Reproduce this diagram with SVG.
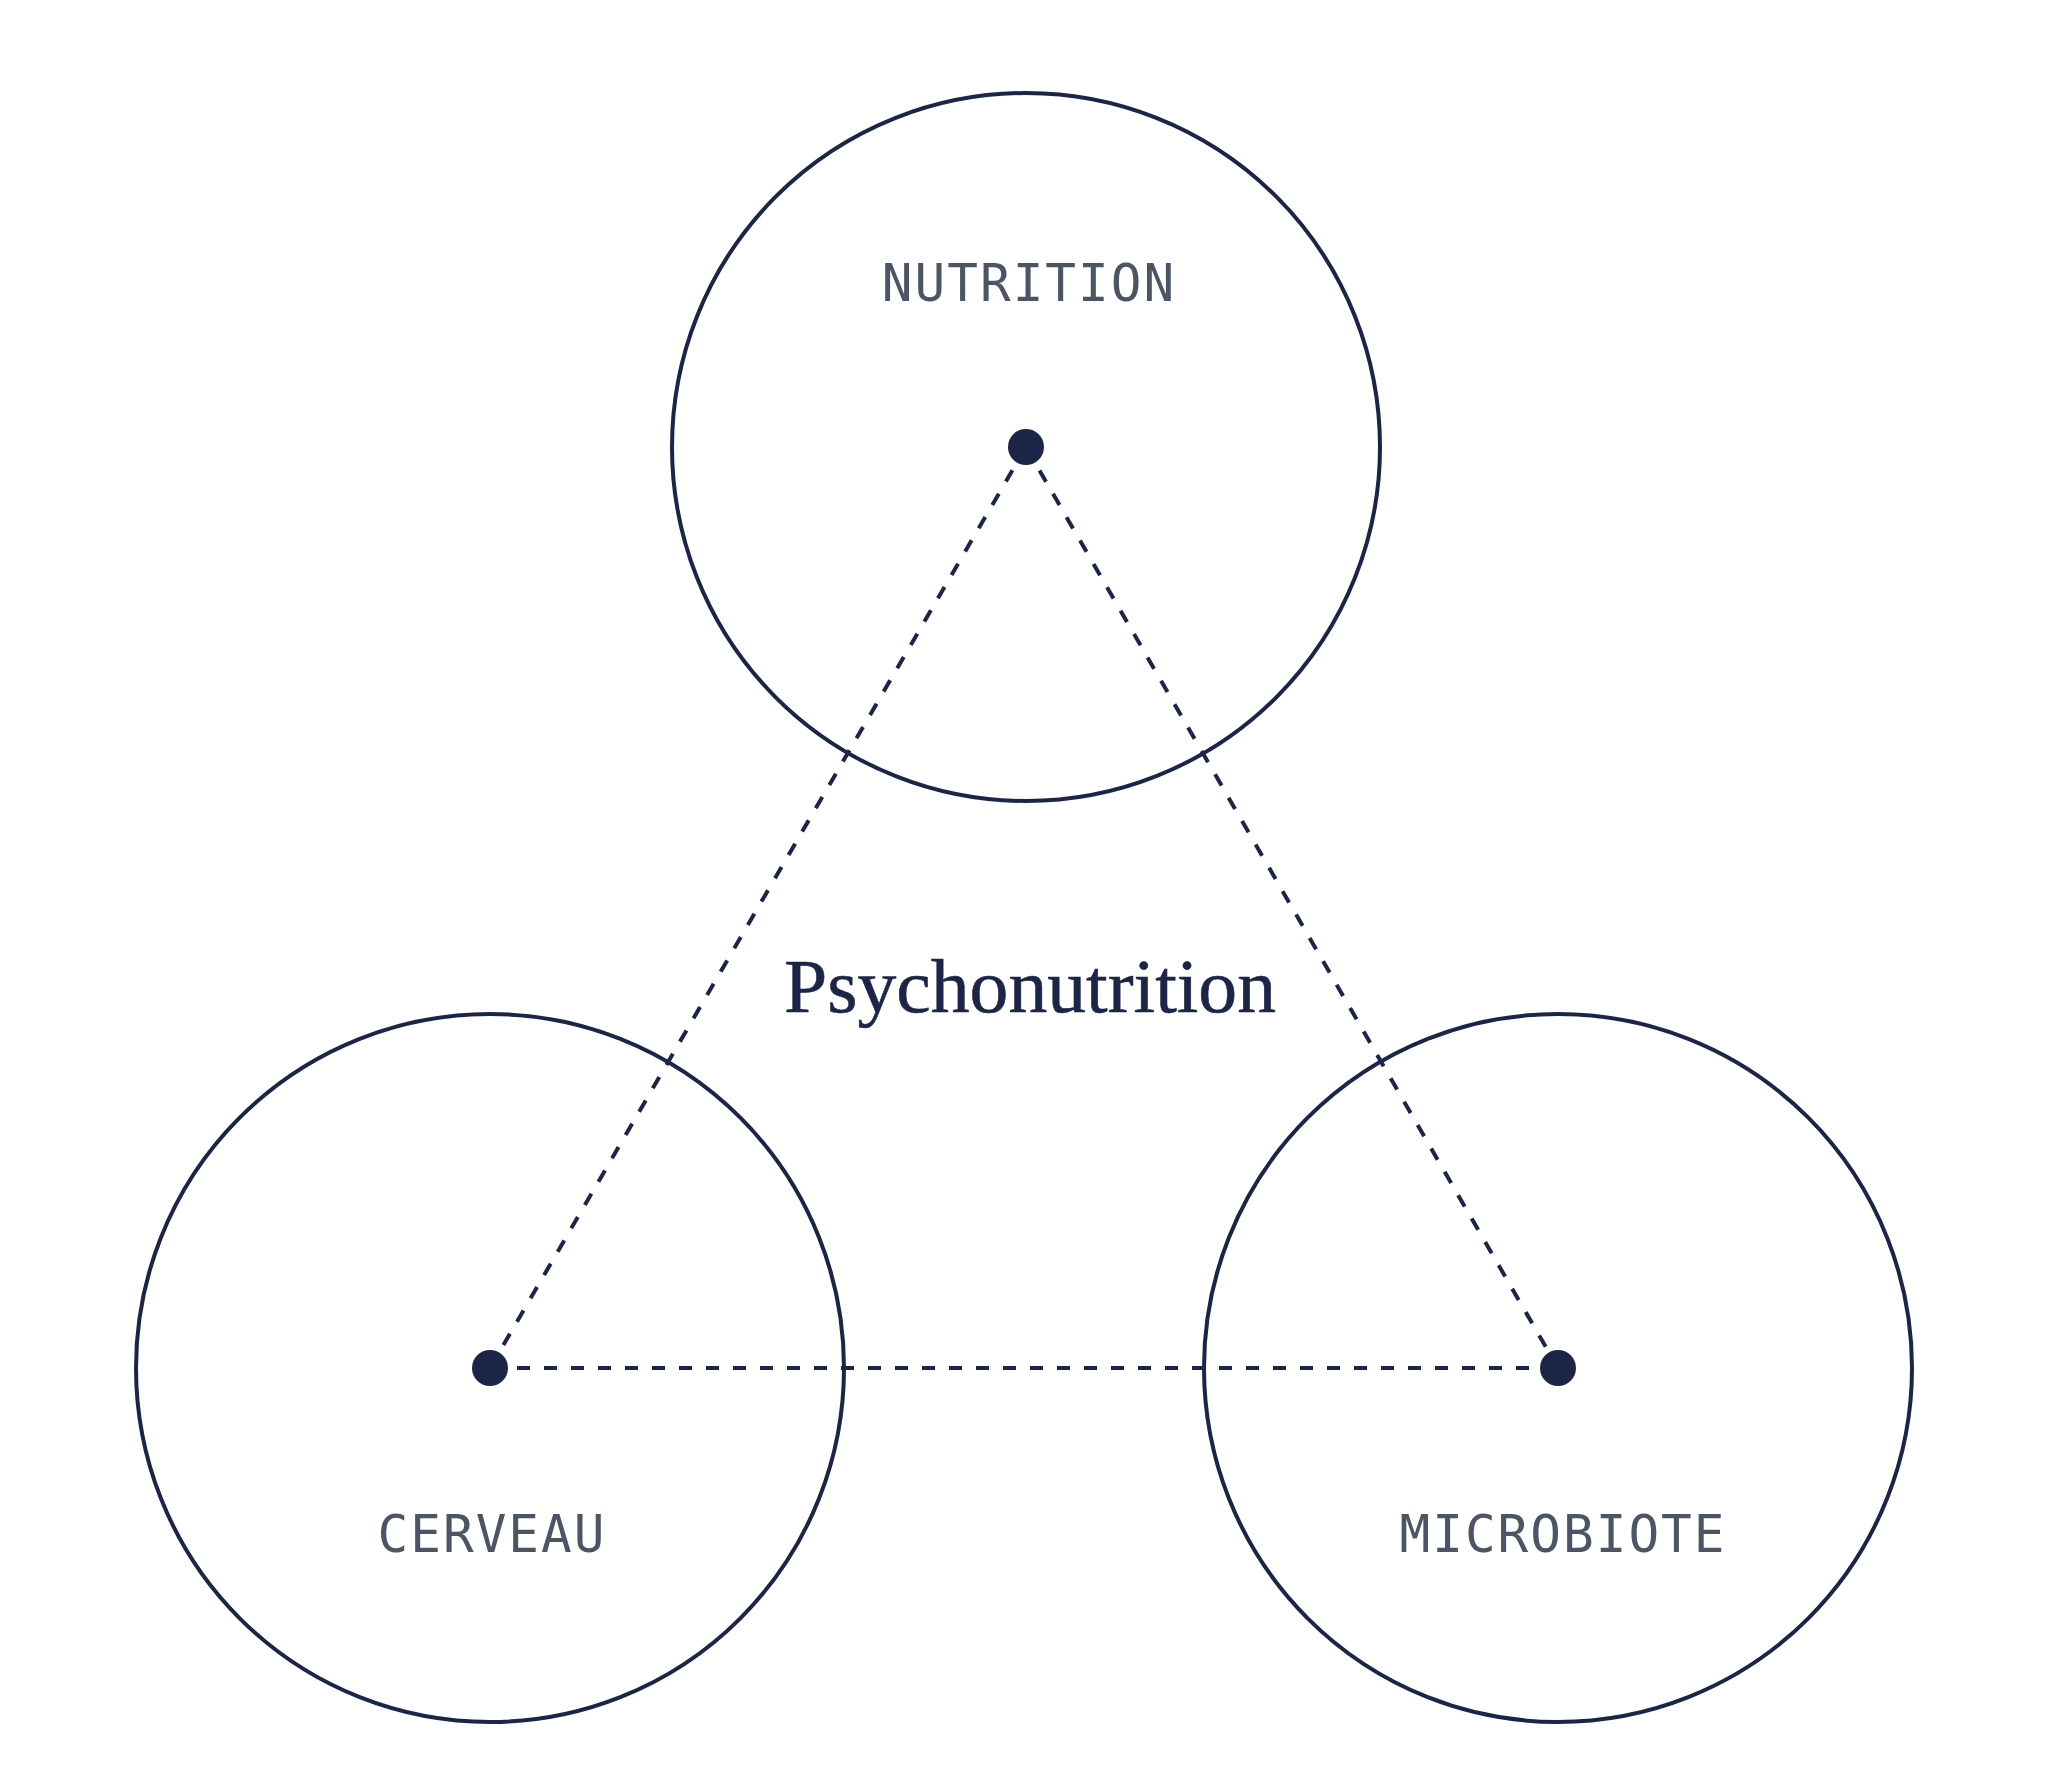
<svg xmlns="http://www.w3.org/2000/svg" width="2048" height="1776" viewBox="0 0 2048 1776">
<style>
.ring{fill:none;stroke:#1b2547;stroke-width:4}
.dot{fill:#1b2547}
.link{stroke:#1b2547;stroke-width:4;stroke-dasharray:13 14;fill:none}
.label{font-family:"DejaVu Sans Mono","Liberation Mono",monospace;font-size:51px;fill:#4b5565;text-anchor:middle;letter-spacing:2px}
.title{font-family:"Liberation Serif","DejaVu Serif",serif;font-size:76px;fill:#1b2547;text-anchor:middle;stroke:#1b2547;stroke-width:0.6}
</style>
<rect width="2048" height="1776" fill="#ffffff"/>
<g id="connectors">
<line class="link" x1="1026" y1="447" x2="490" y2="1368"/>
<line class="link" x1="1026" y1="447" x2="1558" y2="1368"/>
<line class="link" x1="490" y1="1368" x2="1558" y2="1368"/>
</g>
<g id="nutrition">
<circle class="ring" cx="1026" cy="447" r="354"/>
<circle class="dot" cx="1026" cy="447" r="18"/>
<text class="label" x="1029" y="301">NUTRITION</text>
</g>
<g id="cerveau">
<circle class="ring" cx="490" cy="1368" r="354"/>
<circle class="dot" cx="490" cy="1368" r="18"/>
<text class="label" x="492" y="1552">CERVEAU</text>
</g>
<g id="microbiote">
<circle class="ring" cx="1558" cy="1368" r="354"/>
<circle class="dot" cx="1558" cy="1368" r="18"/>
<text class="label" x="1563" y="1552">MICROBIOTE</text>
</g>
<g id="psychonutrition">
<text class="title" x="1030" y="1012" textLength="492" lengthAdjust="spacingAndGlyphs">Psychonutrition</text>
</g>
</svg>
